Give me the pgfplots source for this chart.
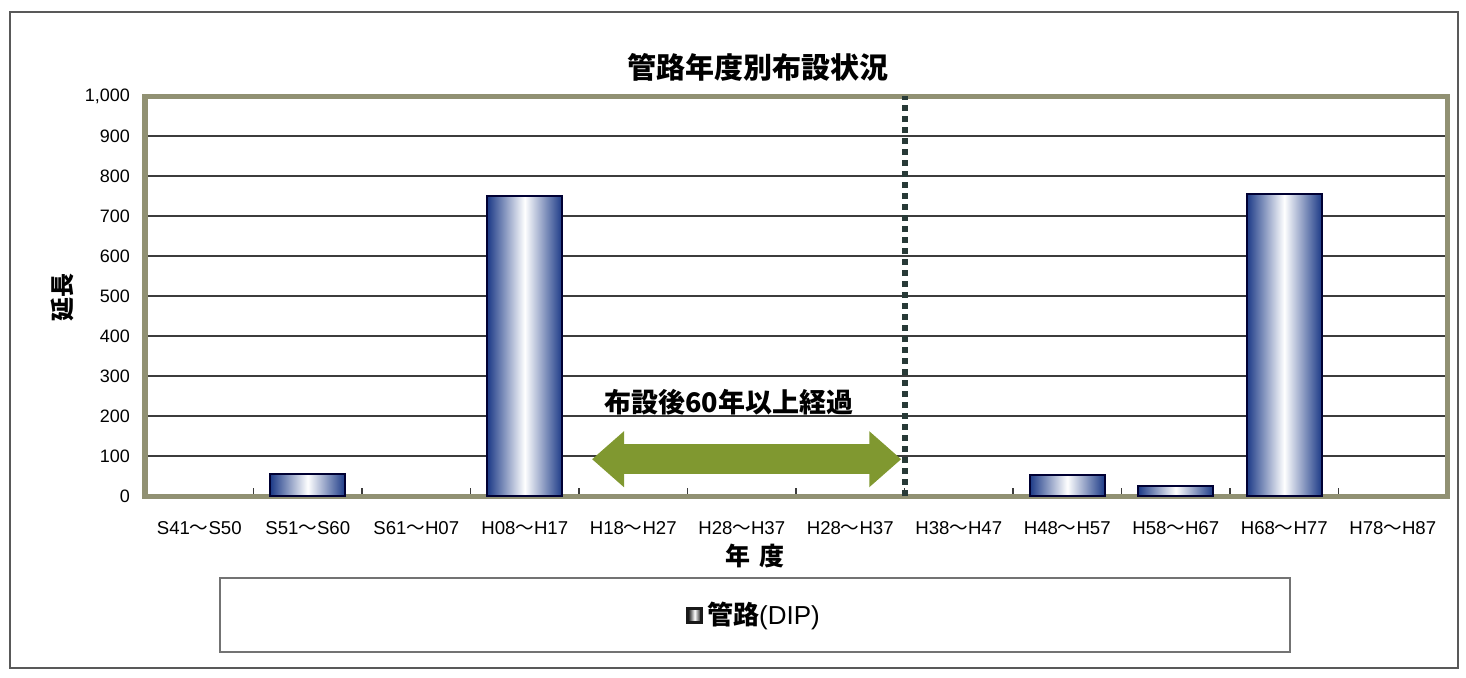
\documentclass[border=0pt]{standalone}
\usepackage{pgfplots}
\pgfplotsset{compat=1.18}
\usepackage{fontspec}
\setmainfont{Liberation Sans}
\newfontfamily\cjk{Noto Sans CJK JP}
\usetikzlibrary{arrows.meta}
\definecolor{frameol}{RGB}{145,145,115}
\definecolor{barnavy}{RGB}{28,58,135}
\definecolor{arrowgreen}{RGB}{128,152,48}
\definecolor{gridc}{RGB}{60,60,60}
\definecolor{dashc}{RGB}{40,58,55}
\newcommand{\tl}{{\cjk ～}}
\pgfplotsset{mybar/.style={ybar, bar width=37.5pt, bar shift=0pt, draw=black!80!blue, line width=0.8pt,
  left color=barnavy, right color=barnavy, middle color=white}}
\begin{document}
\begin{tikzpicture}
\path[use as bounding box] (0pt,0pt) rectangle (733pt,338.5pt);
\draw[black!65, line width=0.8pt] (5pt,4.5pt) rectangle (729pt,332.5pt);
\node[font=\cjk\bfseries\fontsize{14.5}{17}\selectfont] at (379pt,305pt) {管路年度別布設状況};
\node[font=\cjk\bfseries\fontsize{12}{14}\selectfont, rotate=90] at (31pt,190pt) {延長};
\node[font=\cjk\bfseries\fontsize{12.5}{14}\selectfont] at (377.5pt,60.5pt) {年\hspace{0.35em}度};
\draw[black!55, line width=0.9pt] (110pt,12.5pt) rectangle (645pt,49.5pt);
\begin{axis}[
  at={(72.5pt,90.5pt)}, anchor=south west,
  scale only axis, width=651pt, height=200pt,
  xmin=-0.5, xmax=11.5, ymin=0, ymax=1000,
  ytick={0,100,...,1000},
  xtick={0,...,11},
  xticklabels={S41\tl S50, S51\tl S60, S61\tl H07, H08\tl H17, H18\tl H27, H28\tl H37, H28\tl H37, H38\tl H47, H48\tl H57, H58\tl H67, H68\tl H77, H78\tl H87},
  minor xtick={0.5,1.5,...,10.5},
  major tick length=0pt, minor tick length=4pt,
  tick pos=left,
  minor tick style={gridc, line width=0.6pt},
  ymajorgrids,
  grid style={gridc, line width=0.7pt},
  axis line style={frameol, line width=2.5pt},
  /pgf/number format/.cd, 1000 sep={,}, assume math mode=true,
  /pgfplots/.cd,
  yticklabel style={font=\fontsize{9}{10}\selectfont, xshift=-4pt},
  xticklabel style={font=\fontsize{9.3}{10}\selectfont, yshift=-9pt},
  legend style={at={(0.4685,-0.2975)}, anchor=center, draw=none, fill=none,
    font=\fontsize{13}{15}\selectfont, legend cell align=left},
  legend image code/.code={\draw[black!90, line width=1.5pt, left color=black, right color=black, middle color=white] (0pt,-3.5pt) rectangle (7pt,3.5pt);},
]
\addplot[mybar] coordinates {(1,55)};
\addlegendentry{{\cjk\bfseries 管路}(DIP)}
\addplot[mybar, forget plot] coordinates {(3,750)};
\addplot[mybar, forget plot] coordinates {(8,52)};
\addplot[mybar, forget plot] coordinates {(9,25)};
\addplot[mybar, forget plot] coordinates {(10,755)};
\draw[dashc, line width=3pt, dash pattern=on 3pt off 2.5pt] (axis cs:6.5,0) -- (axis cs:6.5,1000);
\draw[arrowgreen, line width=15pt, {Triangle[length=16pt 0, width=27pt 0]}-{Triangle[length=16pt 0, width=27pt 0]}] (axis cs:3.62,92) -- (axis cs:6.47,92);
\node[font=\cjk\bfseries\fontsize{13.5}{16}\selectfont] at (axis cs:4.88,235) {布設後60年以上経過};
\end{axis}
\end{tikzpicture}
\end{document}
